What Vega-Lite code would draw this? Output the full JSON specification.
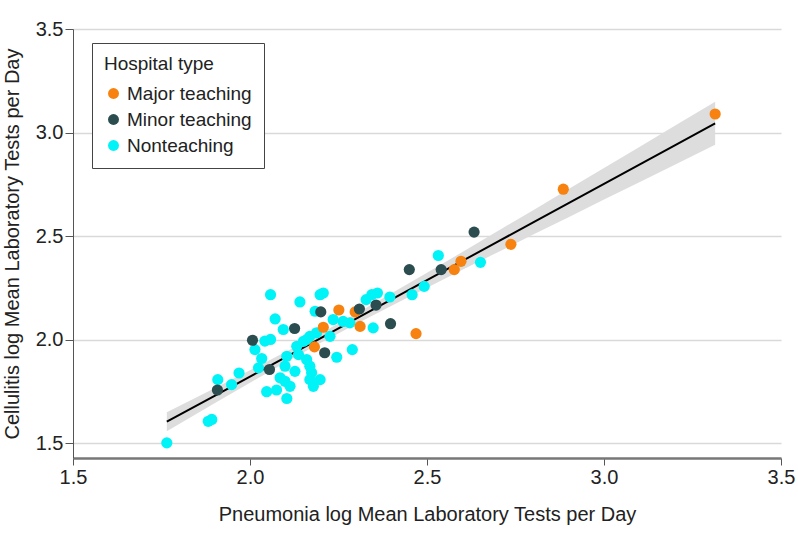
{
  "$schema": "https://vega.github.io/schema/vega-lite/v6.json",
  "width": 708,
  "height": 429,
  "autosize": {"type": "none"},
  "padding": {"left": 73, "top": 29, "right": 17, "bottom": 85},
  "background": "white",
  "config": {
    "font": "Liberation Sans",
    "view": {"stroke": null},
    "axis": {
      "labelFontSize": 20,
      "labelColor": "#222",
      "titleFontSize": 20,
      "titleFontWeight": "normal",
      "titleColor": "#222",
      "tickColor": "#555",
      "gridColor": "#d9d9d9",
      "gridWidth": 1.5,
      "labelFlush": false
    },
    "axisX": {"grid": false, "domainColor": "#777", "domainWidth": 2.5, "tickSize": 7, "labelPadding": 2, "titleY": 62, "titleBaseline": "alphabetic"},
    "axisY": {"grid": true, "domainColor": "#555", "domainWidth": 1, "tickSize": 8, "labelPadding": 2, "titleX": -55, "titleBaseline": "alphabetic"},
    "legend": {
      "orient": "none",
      "legendX": 19,
      "legendY": 14,
      "strokeColor": "#444",
      "fillColor": "white",
      "padding": 12,
      "titleFontSize": 19,
      "titleFontWeight": "normal",
      "titleColor": "#222",
      "labelFontSize": 19,
      "labelColor": "#222",
      "symbolSize": 120,
      "symbolStrokeWidth": 0,
      "rowPadding": 6,
      "titlePadding": 10
    }
  },
  "datasets": {
    "fit": [
      {"x": 1.765, "fit": 1.605, "lo": 1.559, "hi": 1.651},
      {"x": 1.9, "fit": 1.730, "lo": 1.694, "hi": 1.766},
      {"x": 2.0, "fit": 1.823, "lo": 1.793, "hi": 1.853},
      {"x": 2.1, "fit": 1.916, "lo": 1.891, "hi": 1.941},
      {"x": 2.2, "fit": 2.009, "lo": 1.986, "hi": 2.032},
      {"x": 2.3, "fit": 2.102, "lo": 2.077, "hi": 2.127},
      {"x": 2.4, "fit": 2.195, "lo": 2.165, "hi": 2.225},
      {"x": 2.5, "fit": 2.288, "lo": 2.252, "hi": 2.324},
      {"x": 2.6, "fit": 2.381, "lo": 2.338, "hi": 2.424},
      {"x": 2.7, "fit": 2.474, "lo": 2.423, "hi": 2.525},
      {"x": 2.8, "fit": 2.567, "lo": 2.508, "hi": 2.626},
      {"x": 2.9, "fit": 2.660, "lo": 2.592, "hi": 2.728},
      {"x": 3.0, "fit": 2.753, "lo": 2.677, "hi": 2.829},
      {"x": 3.1, "fit": 2.846, "lo": 2.761, "hi": 2.931},
      {"x": 3.2, "fit": 2.939, "lo": 2.845, "hi": 3.033},
      {"x": 3.314, "fit": 3.045, "lo": 2.941, "hi": 3.149}
    ],
    "points": [
      {"type": "Nonteaching", "x": 2.651, "y": 2.374},
      {"type": "Nonteaching", "x": 2.532, "y": 2.407},
      {"type": "Nonteaching", "x": 2.492, "y": 2.258},
      {"type": "Nonteaching", "x": 2.458, "y": 2.218},
      {"type": "Nonteaching", "x": 2.395, "y": 2.207},
      {"type": "Nonteaching", "x": 2.36, "y": 2.226},
      {"type": "Nonteaching", "x": 2.344, "y": 2.218},
      {"type": "Nonteaching", "x": 2.328, "y": 2.194},
      {"type": "Nonteaching", "x": 2.348, "y": 2.058},
      {"type": "Nonteaching", "x": 2.289, "y": 1.953},
      {"type": "Nonteaching", "x": 2.245, "y": 1.916},
      {"type": "Nonteaching", "x": 2.235, "y": 2.098},
      {"type": "Nonteaching", "x": 2.263, "y": 2.089},
      {"type": "Nonteaching", "x": 2.282, "y": 2.082},
      {"type": "Nonteaching", "x": 2.226, "y": 2.017},
      {"type": "Nonteaching", "x": 2.188, "y": 2.034},
      {"type": "Nonteaching", "x": 2.169, "y": 2.017},
      {"type": "Nonteaching", "x": 2.151, "y": 1.993},
      {"type": "Nonteaching", "x": 2.198, "y": 2.218},
      {"type": "Nonteaching", "x": 2.207, "y": 2.226},
      {"type": "Nonteaching", "x": 2.184, "y": 2.138},
      {"type": "Nonteaching", "x": 2.141, "y": 2.183},
      {"type": "Nonteaching", "x": 2.058, "y": 2.218},
      {"type": "Nonteaching", "x": 2.071, "y": 2.101},
      {"type": "Nonteaching", "x": 2.094, "y": 2.05},
      {"type": "Nonteaching", "x": 2.042, "y": 1.994},
      {"type": "Nonteaching", "x": 2.058, "y": 2.002},
      {"type": "Nonteaching", "x": 2.014, "y": 1.953},
      {"type": "Nonteaching", "x": 2.033, "y": 1.91},
      {"type": "Nonteaching", "x": 2.024, "y": 1.865},
      {"type": "Nonteaching", "x": 1.969, "y": 1.84},
      {"type": "Nonteaching", "x": 1.948, "y": 1.784},
      {"type": "Nonteaching", "x": 1.909, "y": 1.808},
      {"type": "Nonteaching", "x": 1.882, "y": 1.607},
      {"type": "Nonteaching", "x": 1.892, "y": 1.616},
      {"type": "Nonteaching", "x": 1.765, "y": 1.503},
      {"type": "Nonteaching", "x": 2.047, "y": 1.75},
      {"type": "Nonteaching", "x": 2.075, "y": 1.758},
      {"type": "Nonteaching", "x": 2.104, "y": 1.717},
      {"type": "Nonteaching", "x": 2.085, "y": 1.817},
      {"type": "Nonteaching", "x": 2.099, "y": 1.8},
      {"type": "Nonteaching", "x": 2.113, "y": 1.776},
      {"type": "Nonteaching", "x": 2.099, "y": 1.873},
      {"type": "Nonteaching", "x": 2.104, "y": 1.921},
      {"type": "Nonteaching", "x": 2.127, "y": 1.848},
      {"type": "Nonteaching", "x": 2.132, "y": 1.969},
      {"type": "Nonteaching", "x": 2.137, "y": 1.929},
      {"type": "Nonteaching", "x": 2.16, "y": 1.905},
      {"type": "Nonteaching", "x": 2.169, "y": 1.873},
      {"type": "Nonteaching", "x": 2.174, "y": 1.841},
      {"type": "Nonteaching", "x": 2.169, "y": 1.808},
      {"type": "Nonteaching", "x": 2.198, "y": 1.808},
      {"type": "Nonteaching", "x": 2.179, "y": 1.776},
      {"type": "Nonteaching", "x": 2.16, "y": 2.001},
      {"type": "Major teaching", "x": 3.314, "y": 3.09},
      {"type": "Major teaching", "x": 2.885, "y": 2.727},
      {"type": "Major teaching", "x": 2.737, "y": 2.461},
      {"type": "Major teaching", "x": 2.596, "y": 2.379},
      {"type": "Major teaching", "x": 2.577, "y": 2.339},
      {"type": "Major teaching", "x": 2.469, "y": 2.03},
      {"type": "Major teaching", "x": 2.311, "y": 2.065},
      {"type": "Major teaching", "x": 2.297, "y": 2.135},
      {"type": "Major teaching", "x": 2.251, "y": 2.144},
      {"type": "Major teaching", "x": 2.207, "y": 2.061},
      {"type": "Major teaching", "x": 2.182, "y": 1.966},
      {"type": "Minor teaching", "x": 2.633, "y": 2.52},
      {"type": "Minor teaching", "x": 2.45, "y": 2.339},
      {"type": "Minor teaching", "x": 2.54, "y": 2.339},
      {"type": "Minor teaching", "x": 2.356, "y": 2.168},
      {"type": "Minor teaching", "x": 2.309, "y": 2.149},
      {"type": "Minor teaching", "x": 2.397, "y": 2.078},
      {"type": "Minor teaching", "x": 2.2, "y": 2.135},
      {"type": "Minor teaching", "x": 2.126, "y": 2.055},
      {"type": "Minor teaching", "x": 2.211, "y": 1.938},
      {"type": "Minor teaching", "x": 2.007, "y": 1.998},
      {"type": "Minor teaching", "x": 2.055, "y": 1.857},
      {"type": "Minor teaching", "x": 1.908, "y": 1.758}
    ]
  },
  "layer": [
    {
      "data": {"name": "fit"},
      "mark": {"type": "area", "color": "#dddddd", "opacity": 1},
      "encoding": {
        "x": {"field": "x", "type": "quantitative", "title": "Pneumonia log Mean Laboratory Tests per Day", "scale": {"domain": [1.5, 3.5], "nice": false, "zero": false}, "axis": {"values": [1.5, 2.0, 2.5, 3.0, 3.5], "format": ".1f"}},
        "y": {"field": "lo", "type": "quantitative", "title": "Cellulitis log Mean Laboratory Tests per Day", "scale": {"domain": [1.43, 3.5], "nice": false, "zero": false}, "axis": {"values": [1.5, 2.0, 2.5, 3.0, 3.5], "format": ".1f"}},
        "y2": {"field": "hi"}
      }
    },
    {
      "data": {"name": "fit"},
      "mark": {"type": "line", "color": "black", "strokeWidth": 2},
      "encoding": {
        "x": {"field": "x", "type": "quantitative", "title": "Pneumonia log Mean Laboratory Tests per Day"},
        "y": {"field": "fit", "type": "quantitative", "title": "Cellulitis log Mean Laboratory Tests per Day"}
      }
    },
    {
      "data": {"name": "points"},
      "mark": {"type": "circle", "size": 125, "opacity": 1},
      "encoding": {
        "x": {"field": "x", "type": "quantitative", "title": "Pneumonia log Mean Laboratory Tests per Day"},
        "y": {"field": "y", "type": "quantitative", "title": "Cellulitis log Mean Laboratory Tests per Day"},
        "color": {
          "field": "type",
          "type": "nominal",
          "title": "Hospital type",
          "scale": {"domain": ["Major teaching", "Minor teaching", "Nonteaching"], "range": ["#f7820f", "#2b4d4f", "#00f3f7"]}
        }
      }
    }
  ]
}
